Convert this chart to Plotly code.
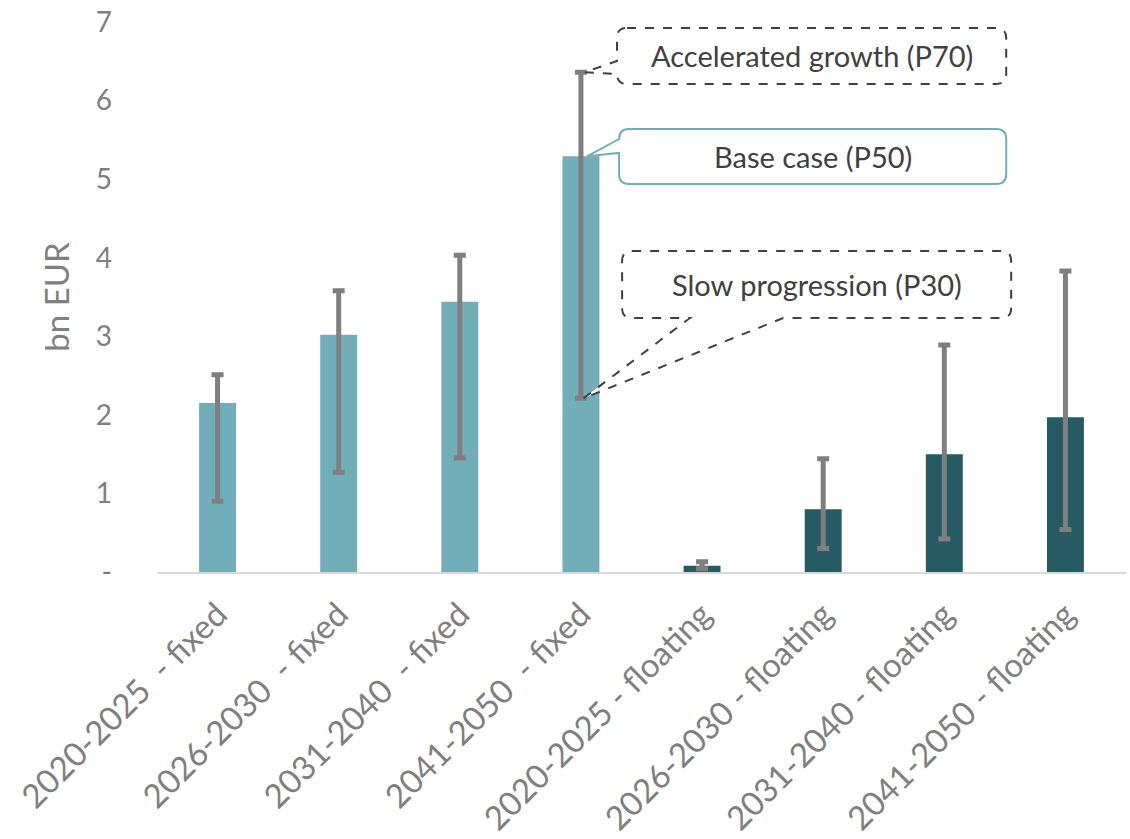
import plotly.graph_objects as go

categories = ["2020-2025  - fixed", "2026-2030  - fixed", "2031-2040  - fixed", "2041-2050  - fixed",
              "2020-2025 - floating", "2026-2030 - floating", "2031-2040 - floating", "2041-2050 - floating"]
base_p50 = [2.15, 3.02, 3.44, 5.29, 0.08, 0.80, 1.50, 1.97]
high_p70 = [2.51, 3.58, 4.03, 6.36, 0.13, 1.44, 2.89, 3.83]
low_p30 = [0.90, 1.27, 1.45, 2.21, 0.04, 0.30, 0.42, 0.54]
bar_colors = ["#72AEB9"] * 4 + ["#265B63"] * 4
y_tickvals = [0, 1, 2, 3, 4, 5, 6, 7]
y_ticktext = ["-", "1", "2", "3", "4", "5", "6", "7"]

FONT = "Lato"
GRAY = "#7F7F7F"
DARK = "#404040"

fig = go.Figure()
fig.add_trace(go.Bar(
    x=categories, y=base_p50, width=0.305,
    marker=dict(color=bar_colors, line=dict(width=0)),
    error_y=dict(type="data", symmetric=False,
                 array=[h - v for h, v in zip(high_p70, base_p50)],
                 arrayminus=[v - l for v, l in zip(base_p50, low_p30)],
                 color=GRAY, thickness=5, width=6),
    showlegend=False, hoverinfo="skip",
))

# callout geometry (category index on x, value on y)
X_PX = 121.1   # px per category
Y_PX = 78.57   # px per unit
rx, ry = 10 / X_PX, 10 / Y_PX


def callout(x0, x1, y0, y1, tip, side, t_a, t_b):
    tx, ty = tip
    p = f"M {x0 + rx},{y1} L {x1 - rx},{y1} Q {x1},{y1} {x1},{y1 - ry} L {x1},{y0 + ry} Q {x1},{y0} {x1 - rx},{y0} "
    if side == "bottom":
        p += f"L {t_b},{y0} L {tx},{ty} L {t_a},{y0} "
    p += f"L {x0 + rx},{y0} Q {x0},{y0} {x0},{y0 + ry} "
    if side == "left":
        p += f"L {x0},{t_a} L {tx},{ty} L {x0},{min(t_b, y1 - ry)} "
    p += f"L {x0},{y1 - ry} Q {x0},{y1} {x0 + rx},{y1} Z"
    return p


i4 = 3
boxes = [
    dict(text="Accelerated growth (P70)", x0=3.298, x1=6.511, y0=6.211, y1=6.924,
         tip=(i4 + 0.03, high_p70[i4]), side="left", a=6.338, b=6.504,
         line=dict(color=DARK, width=2, dash="dash")),
    dict(text="Base case (P50)", x0=3.315, x1=6.511, y0=4.938, y1=5.638,
         tip=(i4 + 0.05, base_p50[i4]), side="left", a=5.333, b=5.60,
         line=dict(color="#72AEB9", width=2)),
    dict(text="Slow progression (P30)", x0=3.34, x1=6.552, y0=3.233, y1=4.086,
         tip=(i4 + 0.02, low_p30[i4]), side="bottom", a=3.90, b=4.67,
         line=dict(color=DARK, width=2, dash="dash")),
]
for b in boxes:
    fig.add_shape(type="path", xref="x", yref="y",
                  path=callout(b["x0"], b["x1"], b["y0"], b["y1"], b["tip"], b["side"], b["a"], b["b"]),
                  line=b["line"], fillcolor="white", layer="above")
    fig.add_annotation(x=(b["x0"] + b["x1"]) / 2, y=(b["y0"] + b["y1"]) / 2, xref="x", yref="y",
                       text=b["text"], showarrow=False,
                       font=dict(family=FONT, size=29, color=DARK))

fig.update_layout(
    width=1130, height=839,
    margin=dict(l=157, r=4, t=22, b=267, autoexpand=False),
    paper_bgcolor="white", plot_bgcolor="white",
    font=dict(family=FONT, color=GRAY),
    xaxis=dict(type="category", range=[-0.5, 7.5], showgrid=False, zeroline=False,
               showline=True, linecolor="#D9D9D9", linewidth=2, automargin=False,
               ticklabeloverflow="allow", ticklabelstandoff=8,
               tickangle=-45, tickfont=dict(family=FONT, size=33, color=GRAY), ticks=""),
    yaxis=dict(range=[0, 7], showgrid=False, zeroline=False, showline=False, automargin=False,
               tickvals=y_tickvals, ticktext=y_ticktext, ticks="",
               ticklabelstandoff=44, ticklabeloverflow="allow",
               tickfont=dict(family=FONT, size=28, color=GRAY),
               title=dict(text="bn EUR", standoff=16, font=dict(family=FONT, size=33, color=GRAY))),
)

# remove the default 8px page margin so the figure fills the window exactly
fig.write_html("out.html", config={"displayModeBar": False},
               post_script="document.body.style.margin='0';document.body.style.overflow='hidden';")
